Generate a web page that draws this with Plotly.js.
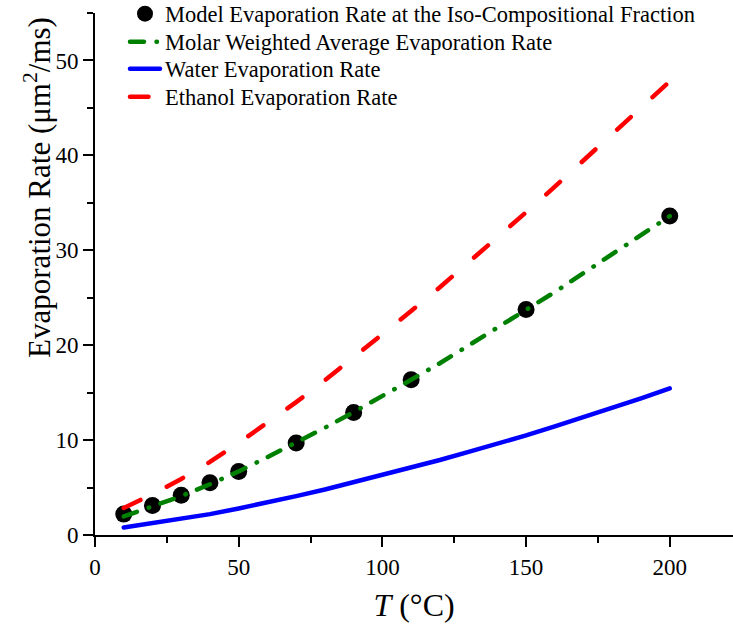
<!DOCTYPE html>
<html>
<head>
<meta charset="utf-8">
<script src="https://cdn.plot.ly/plotly-3.0.1.min.js"></script>
<style>
  html, body { margin: 0; padding: 0; background: #fff; }
  #chart { width: 733px; height: 634px; }
  .main-svg path.js-line { stroke-linecap: round; }
</style>
</head>
<body>
<div id="chart"></div>
<script>
// Temperatures (°C)
const T_model = [10, 20, 30, 40, 50, 70, 90, 110, 150, 200];
const rate_model = [2.2, 3.1, 4.2, 5.5, 6.7, 9.7, 12.9, 16.35, 23.75, 33.6];

const T_line = [10, 20, 30, 40, 50, 60, 70, 80, 90, 100, 110, 120, 130, 140, 150, 160, 170, 180, 190, 200];
const rate_molar = [1.95, 3.0, 4.1, 5.35, 6.7, 8.2, 9.7, 11.3, 12.95, 14.6, 16.35, 18.1, 19.95, 21.8, 23.7, 25.6, 27.6, 29.6, 31.6, 33.6];
const rate_water = [0.8, 1.25, 1.7, 2.2, 2.8, 3.4, 4.1, 4.8, 5.55, 6.3, 7.1, 7.9, 8.75, 9.6, 10.5, 11.45, 12.4, 13.4, 14.4, 15.45];
const rate_ethanol = [2.85, 4.3, 5.9, 7.7, 9.7, 11.8, 14.0, 16.3, 18.7, 21.1, 23.6, 26.1, 28.7, 31.3, 34.0, 36.7, 39.5, 42.3, 45.0, 47.8];

const names = [
  "Model Evaporation Rate at the Iso-Compositional Fraction",
  "Molar Weighted Average Evaporation Rate",
  "Water Evaporation Rate",
  "Ethanol Evaporation Rate"
];
const xTickVals = [0, 50, 100, 150, 200];
const yTickVals = [0, 10, 20, 30, 40, 50];

const serif = "Liberation Serif, Times New Roman, serif";

const traces = [
  {
    x: T_model, y: rate_model, name: names[0], type: "scatter", mode: "markers",
    marker: { color: "#000000", size: 17, symbol: "circle" }, legend: "legend"
  },
  {
    x: T_line, y: rate_molar, name: names[1], type: "scatter", mode: "lines",
    line: { color: "#008000", width: 4.5, dash: "14px,12.5px,0.5px,12px" }, legend: "legend2"
  },
  {
    x: T_line, y: rate_water, name: names[2], type: "scatter", mode: "lines",
    line: { color: "#0000ff", width: 4.5 }, legend: "legend3"
  },
  {
    x: T_line, y: rate_ethanol, name: names[3], type: "scatter", mode: "lines",
    line: { color: "#ff0000", width: 4.5, dash: "18.5px,29.5px" }, legend: "legend4"
  }
];

// one legend box per row so the row spacing matches the reference
const PLOT_BOTTOM = 535, PLOT_H = 522;
function legendBox(pyCenter) {
  return {
    x: 0.047, y: (PLOT_BOTTOM - pyCenter) / PLOT_H, xanchor: "left", yanchor: "middle",
    bgcolor: "rgba(0,0,0,0)", borderwidth: 0,
    font: { family: serif, size: 22.5, color: "#000000" }
  };
}

const layout = {
  width: 733, height: 634,
  margin: { l: 95, r: 0, t: 13, b: 99, pad: 0, autoexpand: false },
  paper_bgcolor: "#ffffff", plot_bgcolor: "#ffffff",
  font: { family: serif, color: "#000000" },
  showlegend: true,
  legend: legendBox(14),
  legend2: legendBox(42),
  legend3: legendBox(69),
  legend4: legendBox(97),
  xaxis: {
    range: [0, 222],
    tickvals: xTickVals,
    ticktext: xTickVals.map(String),
    ticks: "outside", ticklen: 10, tickwidth: 2, tickcolor: "#000",
    minor: { dtick: 25, tick0: 0, ticks: "outside", ticklen: 6, tickwidth: 2, tickcolor: "#000", showgrid: false },
    showline: true, linecolor: "#000", linewidth: 2,
    showgrid: false, zeroline: false,
    tickfont: { family: serif, size: 23, color: "#000" },
    title: { text: "<i>T</i> (°C)", font: { family: serif, size: 32, color: "#000" }, standoff: 15 }
  },
  yaxis: {
    range: [0, 55],
    tickvals: yTickVals,
    ticktext: yTickVals.map(String),
    ticks: "outside", ticklen: 10, tickwidth: 2, tickcolor: "#000",
    minor: { dtick: 5, tick0: 0, ticks: "outside", ticklen: 6, tickwidth: 2, tickcolor: "#000", showgrid: false },
    showline: true, linecolor: "#000", linewidth: 2,
    showgrid: false, zeroline: false,
    tickfont: { family: serif, size: 23, color: "#000" }
  },
  annotations: [
    {
      text: "Evaporation Rate (μm<sup>2</sup>/ms)",
      xref: "paper", yref: "paper",
      x: -0.0893, y: 0.665, xanchor: "center", yanchor: "middle",
      textangle: -90, showarrow: false,
      font: { family: serif, size: 31, color: "#000" }
    }
  ]
};

Plotly.newPlot("chart", traces, layout, { displayModeBar: false, staticPlot: true });
</script>
</body>
</html>
